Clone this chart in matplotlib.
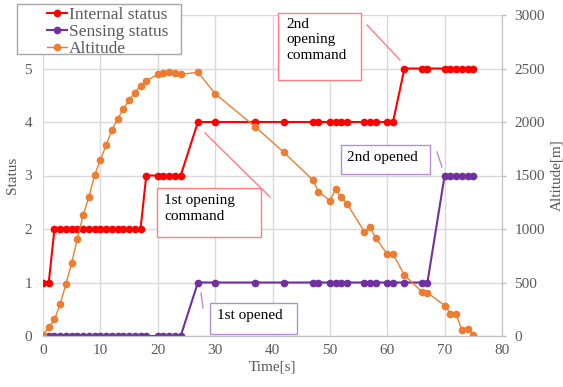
import matplotlib.pyplot as plt
from matplotlib.patches import Rectangle
from matplotlib.lines import Line2D

plt.rcParams['font.family'] = ['Liberation Serif', 'DejaVu Serif']

time = [0, 1, 2, 3, 4, 5, 6, 7, 8, 9, 10, 11, 12, 13, 14, 15, 16, 17, 18,
        20, 21, 22, 23, 24, 27, 30, 37, 42, 47, 48, 50, 51, 52, 53,
        56, 57, 58, 60, 61, 63, 66, 67, 70, 71, 72, 73, 74, 75]
internal = [1, 1] + [2] * 16 + [3] * 6 + [4] * 15 + [5] * 9
sensing = [0] * 24 + [1] * 18 + [3] * 6
altitude = [10, 80, 155, 300, 485, 685, 910, 1130, 1300, 1505, 1645, 1785, 1925,
            2030, 2120, 2205, 2275, 2340, 2385, 2445, 2460, 2470, 2460, 2445,
            2465, 2265, 1955, 1715, 1460, 1350, 1265, 1370, 1295, 1235,
            975, 1020, 915, 765, 765, 570, 415, 405, 285, 210, 205, 55, 70, 10]

W, H = 563, 387
fig = plt.figure(figsize=(W / 100, H / 100), dpi=100)
ax = fig.add_axes([43 / W, 1 - 336 / H, (502 - 43) / W, (336 - 15) / H])
ax2 = ax.twinx()

grey = '#595959'
gridc = '#D9D9D9'

l1, = ax.plot(time, internal, color='#FF0000', marker='o', markersize=4.5, lw=1.5,
              label='Internal status')
l2, = ax.plot(time, sensing, color='#7030A0', marker='o', markersize=4.5, lw=1.5,
              label='Sensing status')
l3, = ax2.plot(time, altitude, color='#ED7D31', marker='o', markersize=4.5, lw=1,
               label='Altitude')

ax.set_xlim(0, 80)
ax.set_ylim(0, 6)
ax2.set_ylim(0, 3000)
ax.set_xticks(range(0, 81, 10))
ax.set_yticks(range(0, 7))
ax2.set_yticks(range(0, 3001, 500))
ax.grid(True, color=gridc, lw=1)
ax.set_axisbelow(True)
for a in (ax, ax2):
    for s in ('top', 'left', 'right'):
        a.spines[s].set_visible(False)
    a.spines['bottom'].set_color('#BFBFBF')
    a.tick_params(length=0, labelsize=11, labelcolor=grey, pad=8)
ax.tick_params(axis='x', pad=6)
ax2.spines['right'].set_visible(True)
ax2.spines['right'].set_color('#BFBFBF')
ax2.tick_params(axis='y', length=3, width=1, color='#BFBFBF', direction='out', pad=6)

ax.set_xlabel('Time[s]', fontsize=11, color=grey, labelpad=2)
ax.set_ylabel('Status', fontsize=11, color=grey, labelpad=4)
ax2.set_ylabel('Altitude[m]', fontsize=11, color=grey, labelpad=4)

# legend frame drawn separately, wider than its contents
fig.patches.append(Rectangle((17 / W, 1 - 54 / H), (181 - 17) / W, (54 - 4) / H,
                             transform=fig.transFigure, fc='white', ec='#A6A6A6', lw=1))
leg = fig.legend(handles=[l1, l2, l3], loc='upper left',
                 bbox_to_anchor=(47 / W, 1 - 7 / H), fontsize=12.5,
                 frameon=False, borderpad=0, labelspacing=0.04, handlelength=1.15,
                 handletextpad=0.1, borderaxespad=0)
for t in leg.get_texts():
    t.set_color(grey)


def box(x0, y0, x1, y1, ec, text, tx, ty):
    fig.patches.append(Rectangle((x0 / W, 1 - y1 / H), (x1 - x0) / W, (y1 - y0) / H,
                                 transform=fig.transFigure, fc='white', ec=ec, lw=1))
    fig.text(tx / W, 1 - ty / H, text, fontsize=11, color='black',
             va='top', ha='left', linespacing=1.25)


def pointer(x0, y0, x1, y1, c):
    fig.lines.append(Line2D([x0 / W, x1 / W], [1 - y0 / H, 1 - y1 / H],
                            transform=fig.transFigure, color=c, lw=1))


red_ec = '#FF7C80'
pur_ec = '#B48FD8'
box(278, 13, 361, 80, red_ec, '2nd\nopening\ncommand', 286, 18)
pointer(367, 25, 400, 60, red_ec)
box(157, 188, 261, 237, red_ec, '1st opening\ncommand', 164, 194)
pointer(205, 133, 270, 197, red_ec)
box(210, 303, 297, 334, pur_ec, '1st opened', 217, 309)
pointer(201, 293, 203, 308, pur_ec)
box(341, 145, 430, 174, pur_ec, '2nd opened', 347, 151)
pointer(437, 152, 442, 167, pur_ec)

fig.savefig('out.png', dpi=100)
